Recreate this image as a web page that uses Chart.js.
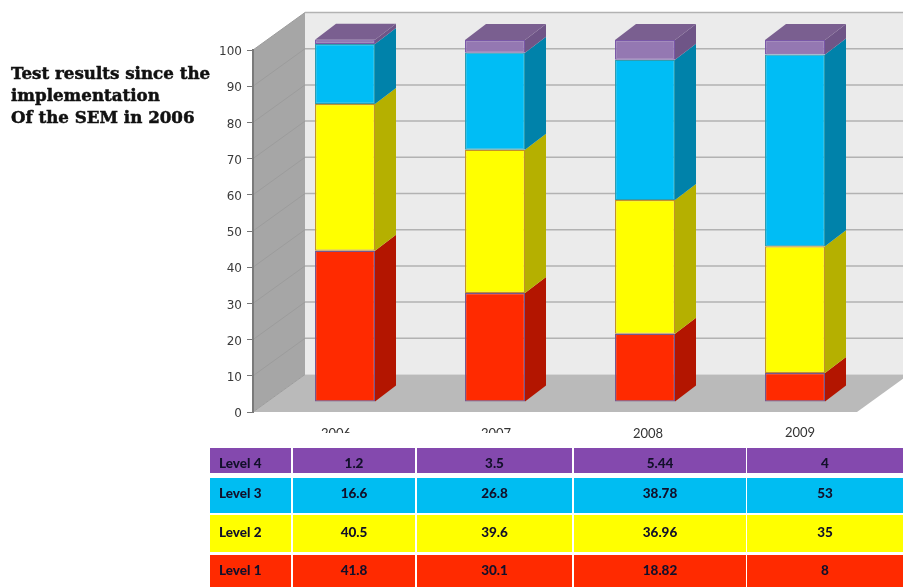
<!DOCTYPE html>
<html>
<head>
<meta charset="utf-8">
<title>Test results</title>
<script src="https://cdn.jsdelivr.net/npm/chart.js"></script>
<style>
  html, body { margin: 0; padding: 0; background: #fff; overflow: hidden; }
  #wrap { position: relative; width: 903px; height: 587px; }
  canvas { position: absolute; left: 0; top: 0; }
  #title {
    position: absolute; left: 11px; top: 62px; width: 215px; white-space: nowrap;
    font: bold 16.7px/22px "DejaVu Serif", serif; color: #111;
    -webkit-text-stroke: 0.5px #111;
  }
  #tbl { position: absolute; left: 210px; top: 448px; width: 693px; height: 139px; }
  #tbl div {
    position: absolute; display: flex; align-items: center; justify-content: center;
    font: 900 13.5px "Lato", sans-serif; color: #12102a;
  }
  #tbl div.name { justify-content: flex-start; padding-left: 9px; box-sizing: border-box; }
</style>
</head>
<body>
<div id="wrap">
  <canvas id="chart" width="903" height="587"></canvas>
  <div id="title">Test results since the<br>implementation<br>Of the SEM in 2006</div>
  <div id="tbl"></div>
</div>
<script>
const years = ['2006', '2007', '2008', '2009'];
const level1 = [41.8, 30.1, 18.82, 8];
const level2 = [40.5, 39.6, 36.96, 35];
const level3 = [16.6, 26.8, 38.78, 53];
const level4 = [1.2, 3.5, 5.44, 4];
const yTicks = [0, 10, 20, 30, 40, 50, 60, 70, 80, 90, 100];

// front, side and edge colours per level
const front = ['#ff2a00', '#ffff00', '#00bdf5', '#9478b2'];
const side = ['#b31500', '#b5b000', '#0082aa', '#6f5587'];
const edge = ['#75578f', '#c2922a', '#2f9cae', '#7a58a8'];
const cellColors = ['#ff2a00', '#ffff00', '#00bdf2', '#8449ae'];

// depth of the box the chart sits in, and of the bars inside it
const wallDx = 52, wallDy = -37.5;
const barShiftX = 17, barShiftY = -10;
const barDx = 21, barDy = -16;
const floorOverhang = 4;
const labelNudge = [-9, 1, 3, 5];
const labelRow = [427, 427, 427, 426];
const labelClipBottom = 433;

const poly = (ctx, pts, fill) => {
  ctx.beginPath();
  pts.forEach((p, i) => i ? ctx.lineTo(p[0], p[1]) : ctx.moveTo(p[0], p[1]));
  ctx.closePath();
  ctx.fillStyle = fill;
  ctx.fill();
};

const sceneryPlugin = {
  id: 'scenery',
  // walls and floor go under the axis so its line and ticks stay on top
  beforeDraw(chart) {
    const { ctx, chartArea: a, scales: { y } } = chart;
    const y0 = y.getPixelForValue(0), y100 = y.getPixelForValue(100);
    const backL = a.left + wallDx;
    const backR = a.right + floorOverhang + wallDx;

    ctx.save();
    poly(ctx, [[backL, y100 + wallDy], [backR, y100 + wallDy], [backR, y0 + wallDy], [backL, y0 + wallDy]], '#ebebeb');
    poly(ctx, [[a.left, y100], [backL, y100 + wallDy], [backL, y0 + wallDy], [a.left, y0]], '#a6a6a6');
    poly(ctx, [[a.left, y0], [a.right + floorOverhang, y0], [backR, y0 + wallDy], [backL, y0 + wallDy]], '#bababa');

    yTicks.forEach(t => {
      const py = y.getPixelForValue(t);
      if (t > 0) {
        ctx.lineWidth = 1.5;
        ctx.strokeStyle = '#b2b2b2';
        ctx.beginPath();
        ctx.moveTo(backL, py + wallDy);
        ctx.lineTo(backR, py + wallDy);
        ctx.stroke();
      }
      ctx.lineWidth = 1;
      ctx.strokeStyle = '#9c9c9c';
      ctx.beginPath();
      ctx.moveTo(a.left, py);
      ctx.lineTo(backL, py + wallDy);
      ctx.stroke();
    });

    // year labels under the floor, the first two are cut off at the bottom
    ctx.font = '13px "Lato", sans-serif';
    ctx.fillStyle = '#333';
    ctx.textAlign = 'center';
    ctx.textBaseline = 'top';
    const x = chart.scales.x;
    years.forEach((yr, i) => {
      const lx = x.getPixelForValue(i) + barShiftX + labelNudge[i];
      ctx.save();
      ctx.beginPath();
      ctx.rect(lx - 40, 415, 80, labelClipBottom - 415);
      if (i < 2) ctx.clip();
      ctx.fillText(yr, lx, labelRow[i]);
      ctx.restore();
    });
    ctx.restore();
  },
  // side and top faces of the bars, then shift the space for the fronts
  beforeDatasetsDraw(chart) {
    const { ctx } = chart;
    ctx.save();
    ctx.translate(barShiftX, barShiftY);
    chart.data.datasets.forEach((ds, d) => {
      chart.getDatasetMeta(d).data.forEach(bar => {
        const r = bar.x + bar.width / 2, l = bar.x - bar.width / 2;
        poly(ctx, [[r, bar.y], [r + barDx, bar.y + barDy], [r + barDx, bar.base + barDy], [r, bar.base]], side[d]);
        if (d === chart.data.datasets.length - 1) {
          poly(ctx, [[l, bar.y], [l + barDx, bar.y + barDy], [r + barDx, bar.y + barDy], [r, bar.y]], '#7a5f90');
        }
      });
    });
  },
  afterDatasetsDraw(chart) {
    chart.ctx.restore();
  }
};

const levels = [level1, level2, level3, level4];

new Chart(document.getElementById('chart'), {
  type: 'bar',
  data: {
    labels: years,
    datasets: levels.map((vals, i) => ({
      label: 'Level ' + (i + 1),
      data: vals,
      backgroundColor: front[i],
      borderColor: edge[i],
      borderWidth: 1.2,
      borderSkipped: false,
      categoryPercentage: 1,
      barPercentage: 0.4,
      clip: false
    }))
  },
  options: {
    responsive: false,
    animation: false,
    layout: { padding: { left: 193, top: 50, right: 50, bottom: 175 } },
    plugins: { legend: { display: false }, tooltip: { enabled: false } },
    scales: {
      x: {
        stacked: true,
        ticks: { display: false },
        grid: { display: false },
        border: { display: false },
        afterFit(scale) { scale.height = 0; }
      },
      y: {
        stacked: true,
        min: 0,
        max: 100,
        afterFit(scale) { scale.width = 60; },
        afterBuildTicks(scale) { scale.ticks = yTicks.map(v => ({ value: v })); },
        ticks: { color: '#3a3a3a', font: { family: 'DejaVu Sans', size: 12 }, padding: 5, labelOffset: 2 },
        grid: { drawOnChartArea: false, tickLength: 6, tickColor: '#777' },
        border: { color: '#7a7a7a', width: 2 }
      }
    }
  },
  plugins: [sceneryPlugin]
});

// value table under the chart
const colEdges = [[0, 81], [83, 205], [207, 362], [364, 536], [537, 693]];
const rowSpans = [[0, 25], [30, 65], [67, 104], [107, 139]];
const rowTextShift = [2, -3, -2, -1];
const tbl = document.getElementById('tbl');
const addCell = (text, col, row, level, cls) => {
  const c = document.createElement('div');
  const inner = document.createElement('span');
  inner.textContent = text;
  inner.style.position = 'relative';
  inner.style.top = rowTextShift[row] + 'px';
  c.appendChild(inner);
  c.style.left = colEdges[col][0] + 'px';
  c.style.width = (colEdges[col][1] - colEdges[col][0]) + 'px';
  c.style.top = rowSpans[row][0] + 'px';
  c.style.height = (rowSpans[row][1] - rowSpans[row][0]) + 'px';
  c.style.background = cellColors[level];
  if (cls) c.className = cls;
  tbl.appendChild(c);
};
[3, 2, 1, 0].forEach((level, row) => {
  addCell('Level ' + (level + 1), 0, row, level, 'name');
  levels[level].forEach((v, i) => addCell(String(v), i + 1, row, level));
});
</script>
</body>
</html>
